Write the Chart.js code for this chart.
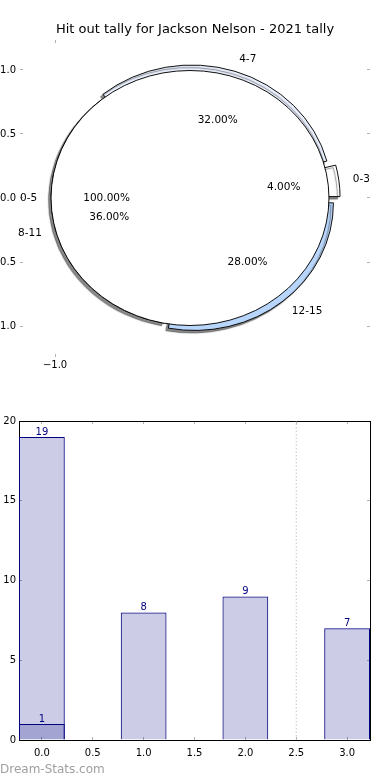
<!DOCTYPE html>
<html>
<head>
<meta charset="utf-8">
<script src="https://cdn.jsdelivr.net/npm/chart.js@4.4.1/dist/chart.umd.min.js"></script>
<style>
  html, body { margin: 0; padding: 0; background: #fff; }
  body { width: 390px; height: 780px; position: relative; overflow: hidden; font-family: "DejaVu Sans", sans-serif; }
  canvas { position: absolute; left: 0; }
  #pieAxes, #pieOuter, #pieInner { top: 0; }
  #bars { top: 400px; }
  .credit { position: absolute; left: 0; top: 762px; font-size: 12px; line-height: 15px; color: #a0a0a0; }
</style>
</head>
<body>
<canvas id="pieAxes" width="390" height="400"></canvas>
<canvas id="pieOuter" width="390" height="400"></canvas>
<canvas id="pieInner" width="390" height="400"></canvas>
<canvas id="bars" width="390" height="380"></canvas>
<div class="credit">Dream-Stats.com</div>
<script>
const title = 'Hit out tally for Jackson Nelson - 2021 tally';

// outer ring, listed clockwise starting at 3 o'clock
const ringLabels = ['12-15', '8-11', '4-7', '0-3'];
const ringValues = [7, 9, 8, 1];
// inner pie
const coreLabels = ['0-5'];
const coreValues = [19];
const pieXTicks = [-1];
const pieYTicks = [-1, -0.5, 0, 0.5, 1];

// bar chart
const barX = [0, 1, 2, 3];
const barValues = [19, 8, 9, 7];
const overlayX = [0];
const overlayValues = [1];
const barXTicks = [0, 0.5, 1, 1.5, 2, 2.5, 3];
const barYTicks = [0, 5, 10, 15, 20];
const markerX = 2.5;

// styles
const font = '"DejaVu Sans", sans-serif';
const ringColors = ['#b8d5fb', '#d6d6d6', '#e9effc', '#ffffff'];
const ringExplode = [0.05, 0, 0.045, 0.08];
const R = 127.5;
const STRETCH = 1.09;
const tickGray = '#b0b0b0';
const TICK = -3; // negative = tick marks point into the plot

Chart.defaults.font.family = font;
Chart.defaults.color = '#000';

const sum = arr => arr.reduce((s, v) => s + v, 0);
const fmt1 = v => (v < 0 ? '\u2212' : '') + Math.abs(v).toFixed(1);

// pie is drawn squashed like the original (wider than tall)
function ellipse(opts) {
    return {
        id: 'ellipse',
        beforeDatasetsDraw(chart) {
            const ctx = chart.ctx;
            const a = chart.chartArea;
            const cx = (a.left + a.right) / 2;
            ctx.save();
            ctx.translate(cx, 0);
            ctx.scale(STRETCH, 1);
            ctx.translate(-cx, 0);
            if (opts.shadow) {
                ctx.shadowColor = 'rgba(40,40,40,0.55)';
                ctx.shadowOffsetX = -2.5;
                ctx.shadowOffsetY = 2.5;
                ctx.shadowBlur = 1;
            }
        },
        afterDatasetsDraw(chart) {
            const ctx = chart.ctx;
            if (opts.outline) {
                const arc = chart.getDatasetMeta(0).data[0];
                ctx.shadowColor = 'transparent';
                ctx.beginPath();
                ctx.arc(arc.x, arc.y, arc.outerRadius, 0, Math.PI * 2);
                ctx.lineWidth = 0.9;
                ctx.strokeStyle = '#000';
                ctx.stroke();
            }
            ctx.restore();
        }
    };
}

// axes behind the pie
new Chart(document.getElementById('pieAxes'), {
    type: 'scatter',
    data: { datasets: [] },
    options: {
        responsive: false,
        animation: false,
        events: [],
        plugins: {
            legend: { display: false },
            tooltip: { enabled: false },
            title: {
                display: true,
                text: title,
                color: '#000',
                font: { size: 13, weight: 'normal' },
                padding: { top: 22, bottom: 0 }
            }
        },
        scales: {
            x: {
                type: 'linear', position: 'bottom', min: -1.252, max: 1.266,
                afterBuildTicks: s => { s.ticks = pieXTicks.map(v => ({ value: v })); },
                afterFit: s => { s.height = 43; },
                border: { display: false },
                grid: { drawOnChartArea: false, tickLength: TICK, color: tickGray },
                ticks: { padding: 5, font: { size: 10 }, callback: v => fmt1(v) }
            },
            x2: {
                type: 'linear', position: 'top', min: -1.252, max: 1.266,
                afterBuildTicks: s => { s.ticks = pieXTicks.map(v => ({ value: v })); },
                afterFit: s => { s.height = 2.4; },
                border: { display: false },
                grid: { drawOnChartArea: false, tickLength: TICK, color: tickGray },
                ticks: { display: false }
            },
            y: {
                type: 'linear', position: 'left', min: -1.242, max: 1.234,
                afterBuildTicks: s => { s.ticks = pieYTicks.map(v => ({ value: v })); },
                afterFit: s => { s.width = 20; },
                border: { display: false },
                grid: { drawOnChartArea: false, tickLength: TICK, color: tickGray },
                ticks: { padding: 7, font: { size: 10 }, callback: v => fmt1(v) }
            },
            y2: {
                type: 'linear', position: 'right', min: -1.242, max: 1.234,
                afterBuildTicks: s => { s.ticks = pieYTicks.map(v => ({ value: v })); },
                afterFit: s => { s.width = 20; },
                border: { display: false },
                grid: { drawOnChartArea: false, tickLength: TICK, color: tickGray },
                ticks: { display: false }
            }
        }
    }
});

const pieOptions = {
    responsive: false,
    animation: false,
    events: [],
    rotation: 90,
    radius: R,
    layout: { padding: { left: 0, right: 10, top: 0, bottom: 4 } },
    plugins: { legend: { display: false }, tooltip: { enabled: false } }
};

const ringTotal = sum(ringValues);
const outerChart = new Chart(document.getElementById('pieOuter'), {
    type: 'pie',
    data: {
        labels: ringLabels,
        datasets: [{
            data: ringValues,
            backgroundColor: ringColors,
            borderColor: '#000',
            borderWidth: 0.9,
            // chart.js pushes an arc out by offset/4 * (1 + fix)
            offset: c => {
                if (c.dataIndex === undefined) return 0;
                const circ = c.raw / ringTotal * Math.PI * 2;
                const fix = 1 - Math.sin(Math.min(Math.PI, circ));
                return 4 * ringExplode[c.dataIndex] * R / (1 + fix);
            }
        }]
    },
    options: pieOptions,
    plugins: [ellipse({ shadow: true })]
});

const pieText = {
    id: 'pieText',
    afterDraw(chart) {
        const ctx = chart.ctx;
        ctx.save();
        ctx.font = '10.5px ' + font;
        ctx.fillStyle = '#000';
        ctx.textBaseline = 'middle';
        const groups = [
            { chart: outerChart, labels: ringLabels, values: ringValues, explode: ringExplode },
            { chart: chart, labels: coreLabels, values: coreValues, explode: [0] }
        ];
        groups.forEach(g => {
            const total = sum(g.values);
            g.chart.getDatasetMeta(0).data.forEach((arc, i) => {
                const mid = (arc.startAngle + arc.endAngle) / 2;
                const cos = Math.cos(mid), sin = Math.sin(mid);
                const r = arc.outerRadius;
                const at = k => [arc.x + STRETCH * r * k * cos, arc.y + r * k * sin];
                let [x, y] = at(1.1 + g.explode[i]);
                ctx.textAlign = cos > 0 ? 'left' : 'right';
                ctx.fillText(g.labels[i], x, y);
                [x, y] = at(0.6 + g.explode[i]);
                ctx.textAlign = 'center';
                ctx.fillText((g.values[i] / total * 100).toFixed(2) + '%', x, y);
            });
        });
        ctx.restore();
    }
};

new Chart(document.getElementById('pieInner'), {
    type: 'pie',
    data: {
        labels: coreLabels,
        datasets: [{ data: coreValues, backgroundColor: '#ffffff', borderWidth: 0 }]
    },
    options: pieOptions,
    plugins: [ellipse({ outline: true }), pieText]
});

// bar chart
const barText = {
    id: 'barText',
    afterDatasetsDraw(chart) {
        const ctx = chart.ctx;
        ctx.save();
        ctx.font = '10px ' + font;
        ctx.fillStyle = '#000080';
        ctx.textAlign = 'center';
        ctx.textBaseline = 'middle';
        chart.data.datasets.forEach((ds, di) => {
            if (ds.type === 'line') return;
            chart.getDatasetMeta(di).data.forEach((bar, i) => {
                ctx.fillText(String(ds.data[i].y), bar.x, bar.y - 5);
            });
        });
        ctx.restore();
    }
};

const xRange = { min: -0.225, max: 3.225 };
const axisX = (pos, showLabels, height) => ({
    type: 'linear', position: pos, min: xRange.min, max: xRange.max, offset: false,
    afterBuildTicks: s => { s.ticks = barXTicks.map(v => ({ value: v })); },
    afterFit: s => { s.height = height; },
    border: { color: '#000', width: 1 },
    grid: { drawOnChartArea: false, offset: false, tickLength: TICK, color: tickGray },
    ticks: { display: showLabels, padding: 10, font: { size: 10 }, maxRotation: 0, autoSkip: false, callback: v => v.toFixed(1) }
});
const axisY = (pos, showLabels, width) => ({
    type: 'linear', position: pos, min: 0, max: 20,
    afterBuildTicks: s => { s.ticks = barYTicks.map(v => ({ value: v })); },
    afterFit: s => { s.width = width; },
    border: { color: '#000', width: 1 },
    grid: { drawOnChartArea: false, tickLength: TICK, color: tickGray },
    ticks: { display: showLabels, padding: 6, font: { size: 10 }, callback: v => String(v) }
});

new Chart(document.getElementById('bars'), {
    type: 'bar',
    data: {
        datasets: [{
            data: barX.map((x, i) => ({ x: x, y: barValues[i] })),
            backgroundColor: 'rgba(0,0,128,0.2)',
            borderColor: '#000080',
            borderWidth: 1,
            grouped: false,
            categoryPercentage: 1,
            barPercentage: 0.9
        }, {
            data: overlayX.map((x, i) => ({ x: x, y: overlayValues[i] })),
            backgroundColor: 'rgba(0,0,128,0.2)',
            borderColor: '#000080',
            borderWidth: 1,
            grouped: false,
            categoryPercentage: 1,
            barPercentage: 0.9
        }, {
            type: 'line',
            data: [{ x: markerX, y: barYTicks[0] }, { x: markerX, y: barYTicks[barYTicks.length - 1] }],
            borderColor: '#c4c4c4',
            borderWidth: 1,
            borderDash: [1.5, 2],
            pointRadius: 0
        }]
    },
    options: {
        responsive: false,
        animation: false,
        events: [],
        layout: { padding: 0 },
        plugins: { legend: { display: false }, tooltip: { enabled: false } },
        scales: {
            x: axisX('bottom', true, 40),
            x2: axisX('top', false, 21),
            y: axisY('left', true, 19),
            y2: axisY('right', false, 20)
        }
    },
    plugins: [barText]
});
</script>
</body>
</html>
